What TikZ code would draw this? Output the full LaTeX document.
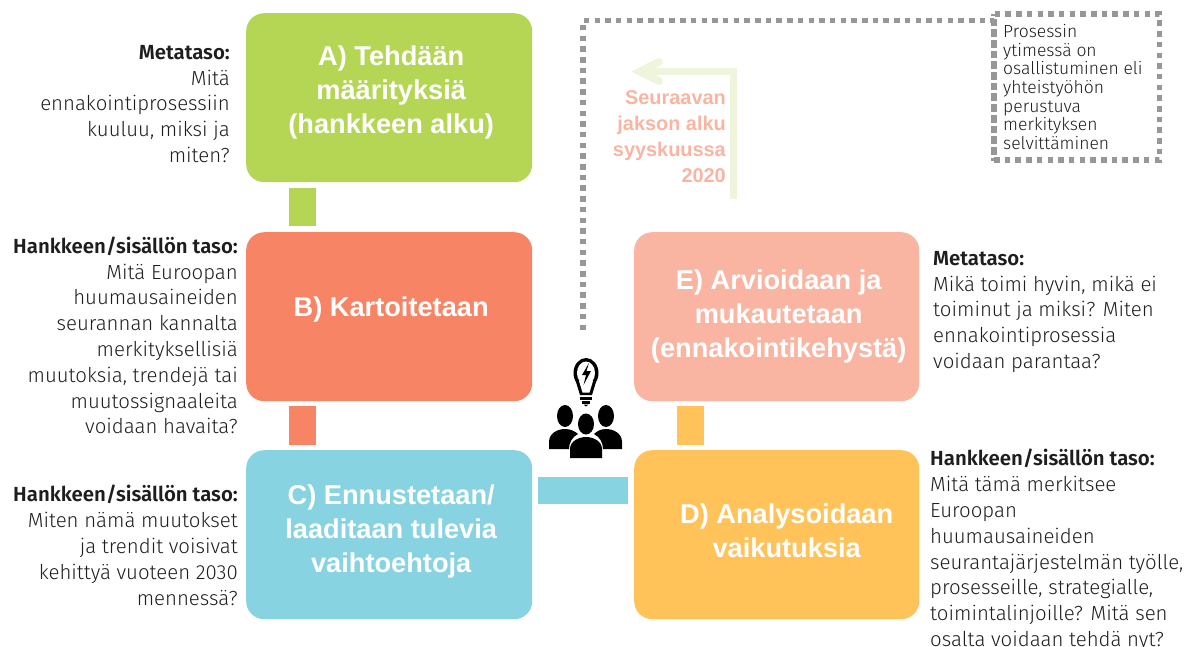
\documentclass[tikz,border=0pt]{standalone}
\usepackage{fontspec}
\setmainfont{Fira Sans Light}[BoldFont={Fira Sans SemiBold}]
\newfontfamily\headfont{Liberation Sans}
\usetikzlibrary{arrows.meta}
\definecolor{cA}{HTML}{B5D655}
\definecolor{cB}{HTML}{F78565}
\definecolor{cC}{HTML}{88D3E2}
\definecolor{cD}{HTML}{FFC35A}
\definecolor{cE}{HTML}{F9B4A2}
\definecolor{cArrow}{HTML}{EFF5DD}
\definecolor{cDots}{HTML}{979797}
\definecolor{cInk}{HTML}{1E1E1E}
\tikzset{
 x=1pt,y=-1pt,
 stage/.style={rounded corners=18pt,minimum width=286pt,minimum height=169pt,anchor=north west,inner sep=0pt},
 stagetext/.style={text=white,align=center,inner sep=0pt,font=\headfont\fontsize{27.2}{34}\selectfont\bfseries},
 note/.style={text=cInk,inner sep=0pt,font=\fontsize{20.4}{25.8}\selectfont},
 noteL/.style={note,align=right,anchor=north east},
 noteR/.style={note,align=left,anchor=north west},
 link/.style={line width=27pt},
 dots/.style={draw=cDots,line width=5.5pt,dash pattern=on 5.5pt off 5.2pt},
}
\begin{document}
\begin{tikzpicture}
\useasboundingbox (0,0) rectangle (1191,646);
\node[stage,fill=cA] (A) at (246,13) {};
\node[stage,fill=cB] (B) at (246,232) {};
\node[stage,fill=cC] (C) at (246,450) {};
\node[stage,fill=cD,minimum width=285pt] (D) at (634,450) {};
\node[stage,fill=cE,minimum width=285pt] (E) at (634,232) {};
\node[stagetext] (At) at ([xshift=2pt,yshift=5pt]A.center) {A) Tehdään\\määrityksiä\\(hankkeen alku)};
\node[stagetext] (Bt) at ([xshift=2pt,yshift=7pt]B.center) {B) Kartoitetaan};
\node[stagetext] (Ct) at ([xshift=2pt,yshift=3pt]C.center) {C) Ennustetaan/\\laaditaan tulevia\\vaihtoehtoja};
\node[stagetext] (Dt) at ([xshift=10pt,yshift=4pt]D.center) {D) Analysoidaan\\vaikutuksia};
\node[stagetext] (Et) at ([xshift=2pt]E.center) {E) Arvioidaan ja\\mukautetaan\\(ennakointikehystä)};
% links
\draw[link,draw=cA] ([xshift=-86.5pt,yshift=-6pt]A.south) -- ([xshift=-86.5pt,yshift=6pt]B.north);
\draw[link,draw=cB] ([xshift=-86.5pt,yshift=-5pt]B.south) -- ([xshift=-86.5pt,yshift=5pt]C.north);
\draw[link,draw=cD] ([xshift=-86pt,yshift=5pt]D.north) -- ([xshift=-86pt,yshift=-5pt]E.south);
\draw[link,draw=cC] ([xshift=6pt,yshift=44.5pt]C.east) -- ([xshift=-6pt,yshift=44.5pt]D.west);
% notes
\node[noteL] (n1) at (230,45) {\textbf{Metataso:}\\Mitä\\ennakointiprosessiin\\kuuluu, miksi ja\\miten?};
\node[noteL] (n2) at (238,236.5) {\textbf{Hankkeen/sisällön taso:}\\Mitä Euroopan\\huumausaineiden\\seurannan kannalta\\merkityksellisiä\\muutoksia, trendejä tai\\muutossignaaleita\\voidaan havaita?};
\node[noteL] (n3) at (238,485) {\textbf{Hankkeen/sisällön taso:}\\Miten nämä muutokset\\ja trendit voisivat\\kehittyä vuoteen 2030\\mennessä?};
\node[noteR] (n4) at (933,251) {\textbf{Metataso:}\\Mikä toimi hyvin, mikä ei\\toiminut ja miksi? Miten\\ennakointiprosessia\\voidaan parantaa?};
\node[noteR] (n5) at (930,449) {\textbf{Hankkeen/sisällön taso:}\\Mitä tämä merkitsee\\Euroopan\\huumausaineiden\\seurantajärjestelmän työlle,\\prosesseille, strategialle,\\toimintalinjoille? Mitä sen\\osalta voidaan tehdä nyt?};
% dotted frame
\node[dots,draw,minimum width=165.5pt,minimum height=146pt,anchor=north west,inner sep=0pt,outer sep=0pt] (P) at (994,14) {};
\draw[dots,dash phase=4pt] (P.north west) -- (P.south west);
\node[anchor=north west,align=left,inner sep=0pt,text=cInk,font=\fontsize{17.5}{18.7}\selectfont] (Pt) at (1003,24) {Prosessin\\ytimessä on\\osallistuminen eli\\yhteistyöhön\\perustuva\\merkityksen\\selvittäminen};
\coordinate (d0) at (583,330);
\coordinate (d1) at (583,20.5);
\draw[dots] (d0) -- (d1) -- (P.west |- d1);
% return arrow
\coordinate (r0) at (733.5,199);
\coordinate (r1) at (733.5,71.5);
\coordinate (r2) at (640,71.5);
\draw[cArrow,line width=7.5pt] (r0) -- (r1) -- (r2);
\draw[cArrow,line width=8pt,line cap=round,line join=miter] (659,62) -- (640,71.5) -- (659,81);
\node[anchor=north east,align=right,inner sep=0pt,text=cE,font=\headfont\fontsize{19.9}{26}\selectfont\bfseries] (S) at (726,90.5) {Seuraavan\\jakson alku\\syyskuussa\\2020};
% people icon
\begin{scope}
\fill[black] (586,373) ellipse (12.5 and 15);
\fill[black] (576,382) -- (580,395) -- (592,395) -- (596,382) -- cycle;
\fill[white] (579,381) -- (582.5,392.5) -- (589.5,392.5) -- (593,381) -- cycle;
\fill[white] (586,373) ellipse (9 and 11.5);
\fill[black] (589,363) -- (582,375) -- (586,375) -- (583.5,385) -- (591,371) -- (586.5,371) -- cycle;
\fill[black] (580,396.5) rectangle (592,399.5);
\fill[black] (582,401) rectangle (590,403.5);
\fill[black] (583.5,404.5) -- (588.5,404.5) -- (586,406.5) -- cycle;
\fill[black] (565,416) ellipse (8 and 11);
\fill[black] (606,416) ellipse (8 and 11);
\fill[black] (549,449) -- (549,442) .. controls (549,433) and (558,429) .. (565,429) .. controls (570,429) and (575,431) .. (578,434) .. controls (572,437) and (569,443) .. (569,449) -- cycle;
\fill[black] (622,449) -- (622,442) .. controls (622,433) and (613,429) .. (606,429) .. controls (601,429) and (597,431) .. (594,434) .. controls (600,437) and (603,443) .. (603,449) -- cycle;
\fill[black] (586,424) ellipse (8 and 10.5);
\fill[black] (570,458) -- (570,449) .. controls (570,441) and (579,437) .. (586,437) .. controls (593,437) and (602,441) .. (602,449) -- (602,458) -- cycle;
\end{scope}
\end{tikzpicture}
\end{document}
